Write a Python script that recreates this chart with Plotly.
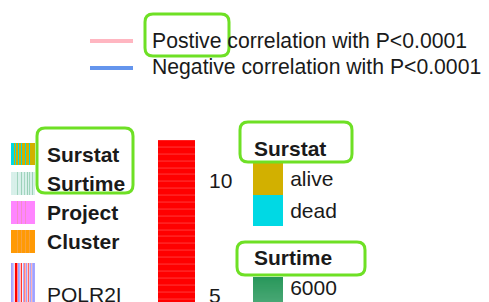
import plotly.graph_objects as go

# The page body has an 8px margin, so the figure is sized to fit the window exactly
OFF = 8
FW, FH = 489 - OFF, 302 - OFF
FONT = "Liberation Sans, Arial, Helvetica, sans-serif"
GREEN = "#6EE025"

# ---------------- data ----------------
samples = [f"S{i+1}" for i in range(24)]
surstat = ["dead", "dead", "dead", "alive", "dead", "alive", "alive", "dead",
           "alive", "alive", "dead", "alive", "alive", "alive", "dead", "alive",
           "alive", "alive", "dead", "alive", "alive", "alive", "alive", "alive"]
surtime = [400, 450, 380, 500, 420, 460, 2300, 400, 430, 480, 2500, 450,
           400, 2200, 420, 500, 2600, 440, 2300, 460, 430, 2500, 450, 480]
project = ["A", "A", "A", "A", "A", "A", "B", "A", "A", "A", "B", "A",
           "A", "A", "B", "A", "A", "A", "A", "A", "A", "A", "A", "A"]
cluster = ["C1", "C1", "C1", "C1", "C1", "C1", "C2", "C1", "C1", "C1", "C2", "C1",
           "C1", "C1", "C2", "C1", "C1", "C1", "C2", "C1", "C1", "C1", "C1", "C1"]
polr2i = [-1.5, -1.3, -0.9, 0.3, 2.0, 2.0, 0.9, -1.5, -1.2, 0.5, 1.6, 0.1,
          -1.3, 1.0, 0.6, -1.5, 0.4, 1.2, -0.8, -1.4, 0.6, -1.2, -1.5, -1.4]

score_levels = [round(4.8 + 0.3 * i, 2) for i in range(25)]
score_ticks = [5, 10]
surtime_levels = list(range(5300, 6550, 50))

surstat_labels = ["alive", "dead"]
legend_texts = ["Postive correlation with P<0.0001", "Negative correlation with P<0.0001"]
legend_colors = ["#FFB6C1", "#6495ED"]

surstat_colors = {"alive": "#D2B000", "dead": "#00D9E4"}
project_colors = {"A": "#FF85FF", "B": "#F38CC8"}
cluster_colors = {"C1": "#FF9A05", "C2": "#F8A23C"}
surtime_scale = [[0, "#E4F6F4"], [1, "#28975A"]]
expr_scale = [[0, "#8080FF"], [0.5, "#FFFFFF"], [1, "#FF0000"]]


def px_x(x):
    return (x - OFF) / FW


def px_y(y):
    return 1 - (y - OFF) / FH


def discrete(values, cmap):
    keys = list(cmap.keys())
    codes = [keys.index(v) for v in values]
    cs = [[0, cmap[keys[0]]], [0.5, cmap[keys[0]]], [0.5, cmap[keys[1]]], [1, cmap[keys[1]]]]
    return codes, cs


fig = go.Figure()

# ---------------- left annotation rows ----------------
rows = [("Surstat", 143, 165), ("Surtime", 172, 195), ("Project", 201, 224),
        ("Cluster", 230, 253), ("POLR2I", 263, 302)]

c, cs = discrete(surstat, surstat_colors)
fig.add_trace(go.Heatmap(z=[c], x=samples, colorscale=cs, zmin=0, zmax=1,
                         showscale=False, xaxis="x", yaxis="y"))
fig.add_trace(go.Heatmap(z=[surtime], x=samples, colorscale=surtime_scale, zmin=0, zmax=6500,
                         showscale=False, xaxis="x", yaxis="y2"))
c, cs = discrete(project, project_colors)
fig.add_trace(go.Heatmap(z=[c], x=samples, colorscale=cs, zmin=0, zmax=1,
                         showscale=False, xaxis="x", yaxis="y3"))
c, cs = discrete(cluster, cluster_colors)
fig.add_trace(go.Heatmap(z=[c], x=samples, colorscale=cs, zmin=0, zmax=1,
                         showscale=False, xaxis="x", yaxis="y4"))
fig.add_trace(go.Heatmap(z=[polr2i], x=samples, colorscale=expr_scale, zmin=-2, zmax=2,
                         showscale=False, xaxis="x", yaxis="y5"))

# ---------------- red score bar ----------------
fig.add_trace(go.Heatmap(z=[[v] for v in score_levels], y=score_levels, x=[0],
                         colorscale=expr_scale, zmin=-2, zmax=2, ygap=1,
                         showscale=False, xaxis="x2", yaxis="y6"))
# tick labels of the score bar (clipped at the bottom edge like the reference)
fig.add_trace(go.Scatter(x=[0] * len(score_ticks), y=score_ticks,
                         text=[str(t) for t in score_ticks], mode="text",
                         textposition="middle right", cliponaxis=True,
                         textfont=dict(family=FONT, size=21, color="#1A1A1A"),
                         xaxis="x4", yaxis="y6", hoverinfo="skip"))

# ---------------- right legends ----------------
fig.add_trace(go.Heatmap(z=[[0], [1]], y=surstat_labels, x=[0],
                         colorscale=[[0, surstat_colors["alive"]], [0.5, surstat_colors["alive"]],
                                     [0.5, surstat_colors["dead"]], [1, surstat_colors["dead"]]],
                         zmin=0, zmax=1, showscale=False, xaxis="x3", yaxis="y7"))
fig.add_trace(go.Heatmap(z=[[v] for v in surtime_levels], y=surtime_levels, x=[0],
                         colorscale=surtime_scale, zmin=0, zmax=6500,
                         showscale=False, xaxis="x3", yaxis="y8"))

hidden = dict(visible=False, showgrid=False, zeroline=False, fixedrange=True)
layout = dict(
    width=FW, height=FH,
    margin=dict(l=0, r=0, t=0, b=0),
    paper_bgcolor="white",
    plot_bgcolor="white",
    showlegend=False,
    font=dict(family=FONT, size=21, color="#1A1A1A"),
    xaxis=dict(domain=[px_x(11), px_x(35)], anchor="y", **hidden),
    xaxis2=dict(domain=[px_x(158), px_x(195)], anchor="y6", **hidden),
    xaxis3=dict(domain=[px_x(253), px_x(283)], anchor="y7", **hidden),
    xaxis4=dict(domain=[px_x(209), px_x(253)], anchor="y6", range=[0, 1], **hidden),
)
for i, (name, y0, y1) in enumerate(rows):
    key = "yaxis" if i == 0 else f"yaxis{i+1}"
    layout[key] = dict(domain=[max(0, px_y(y1)), px_y(y0)], anchor="x", **hidden)

tick_common = dict(showgrid=False, zeroline=False, showline=False, fixedrange=True,
                   ticks="outside", tickcolor="rgba(0,0,0,0)", side="right",
                   tickfont=dict(family=FONT, size=21, color="#1A1A1A"))
layout["yaxis6"] = dict(domain=[0, px_y(140)], anchor="x2", range=[4.826, 11.87], **hidden)
layout["yaxis7"] = dict(domain=[px_y(226), px_y(163)], anchor="x3", autorange="reversed",
                        ticklen=2, **tick_common)
layout["yaxis8"] = dict(domain=[0, px_y(277)], anchor="x3", range=[5364, 6500],
                        tickvals=[6000], ticklen=2, **tick_common)
fig.update_layout(**layout)

# light backing under the score bar so the row gaps read as faint lines
fig.add_shape(type="rect", xref="x2 domain", yref="y6 domain", x0=0, x1=1, y0=0, y1=1,
              fillcolor="#FF3A3A", line=dict(width=0), layer="below")

# ---------------- text ----------------
label_y = [154, 183.5, 212.5, 241.5, 294]
for (name, _, _), ly in zip(rows, label_y):
    txt = name if name == "POLR2I" else f"<b>{name}</b>"
    fig.add_annotation(x=px_x(45), y=px_y(ly), xref="paper", yref="paper", text=txt,
                       showarrow=False, xanchor="left", yanchor="middle",
                       font=dict(family=FONT, size=21, color="#1A1A1A"))

for title, ty in [("Surstat", 148), ("Surtime", 258)]:
    fig.add_annotation(x=px_x(252), y=px_y(ty), xref="paper", yref="paper",
                       text=f"<b>{title}</b>", showarrow=False, xanchor="left", yanchor="middle",
                       font=dict(family=FONT, size=21, color="#1A1A1A"))

for txt, col, ly in zip(legend_texts, legend_colors, [41, 68]):
    fig.add_shape(type="line", xref="paper", yref="paper", x0=px_x(90), x1=px_x(133),
                  y0=px_y(ly), y1=px_y(ly), line=dict(color=col, width=4))
    fig.add_annotation(x=px_x(150), y=px_y(ly - 0.5), xref="paper", yref="paper", text=txt,
                       showarrow=False, xanchor="left", yanchor="middle",
                       font=dict(family=FONT, size=21.2, color="#1A1A1A"))


# ---------------- green highlight boxes ----------------
def rounded(x0, y0, x1, y1, r=8):
    X0, X1 = px_x(x0), px_x(x1)
    Y0, Y1 = px_y(y0), px_y(y1)
    rx, ry = r / FW, r / FH
    return (f"M {X0+rx},{Y0} L {X1-rx},{Y0} Q {X1},{Y0} {X1},{Y0-ry} "
            f"L {X1},{Y1+ry} Q {X1},{Y1} {X1-rx},{Y1} L {X0+rx},{Y1} "
            f"Q {X0},{Y1} {X0},{Y1+ry} L {X0},{Y0-ry} Q {X0},{Y0} {X0+rx},{Y0} Z")


for box in [(145, 14, 229, 56), (37, 128, 133, 193), (240, 122, 352, 162), (237, 242, 365, 275)]:
    fig.add_shape(type="path", xref="paper", yref="paper", path=rounded(*box),
                  line=dict(color=GREEN, width=3))

fig.write_html("out.html")
